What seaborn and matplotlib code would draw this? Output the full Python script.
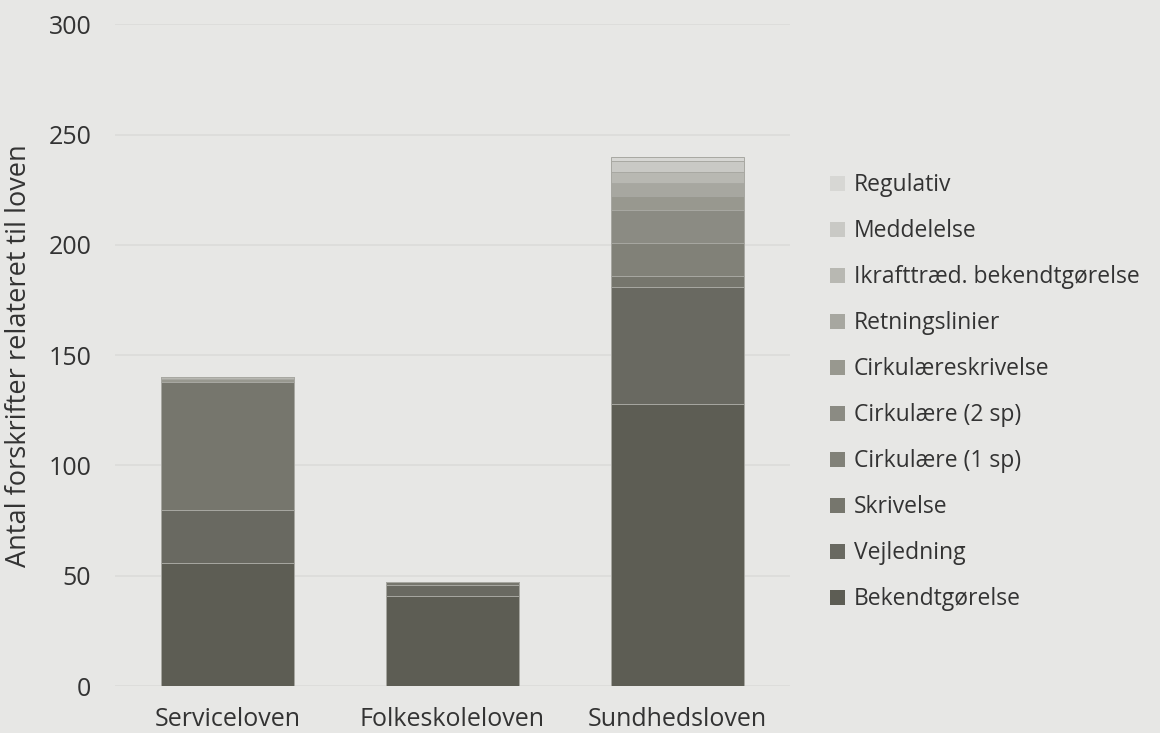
import numpy as np
import pandas as pd
import matplotlib
matplotlib.use("Agg")
import matplotlib.pyplot as plt
from matplotlib.patches import Patch
import seaborn as sns

# data
laws = ["Serviceloven", "Folkeskoleloven", "Sundhedsloven"]
types = ["Bekendtgørelse", "Vejledning", "Skrivelse", "Cirkulære (1 sp)",
         "Cirkulære (2 sp)", "Cirkulæreskrivelse", "Retningslinier",
         "Ikrafttræd. bekendtgørelse", "Meddelelse", "Regulativ"]
bekendtgorelse = [56, 41, 128]
vejledning = [24, 5, 53]
skrivelse = [58, 1, 5]
cirk_1sp = [0, 0, 15]
cirk_2sp = [0, 0, 15]
cirkskrivelse = [1, 0, 6]
retningslinier = [0, 0, 6]
ikraft = [1, 0, 5]
meddelelse = [0, 0, 5]
regulativ = [0, 0, 2]

colors = ["#5d5d54", "#696961", "#76766d", "#818178", "#8b8b83",
          "#98988f", "#a7a7a0", "#b8b8b2", "#c9c9c5", "#d7d7d4"]

df = pd.DataFrame([bekendtgorelse, vejledning, skrivelse, cirk_1sp, cirk_2sp,
                   cirkskrivelse, retningslinier, ikraft, meddelelse, regulativ],
                  index=types, columns=laws)
cum = df.cumsum()

bg = "#e7e7e5"
txtc = "#333333"
sns.set_theme(style="white", rc={"figure.facecolor": bg, "axes.facecolor": bg})
plt.rcParams["font.family"] = ["Open Sans", "DejaVu Sans"]

fig = plt.figure(figsize=(11.6, 7.33), dpi=100)
ax = fig.add_axes([0.099, 0.064, 0.582, 0.903])

# draw cumulative totals from the top level down so each layer shows its segment
for t, c in zip(types[::-1], colors[::-1]):
    sns.barplot(x=laws, y=cum.loc[t].values, color=c, saturation=1, width=0.59,
                edgecolor="#a8a8a2", linewidth=0.7, ax=ax, zorder=2)

ax.set_ylim(0, 300)
ax.set_xlim(-0.5, 2.5)
ax.set_yticks([0, 50, 100, 150, 200, 250, 300])
ax.yaxis.grid(True, color="#dcdcda", linewidth=1.2, zorder=0)
ax.set_axisbelow(True)
for s in ax.spines.values():
    s.set_visible(False)
ax.tick_params(axis="y", length=0, pad=17, labelsize=18, labelcolor=txtc)
ax.tick_params(axis="x", length=0, pad=15, labelsize=18, labelcolor=txtc)
ax.set_xlabel("")
ax.set_ylabel("Antal forskrifter relateret til loven", fontsize=19.5, color=txtc, labelpad=11)

handles = [Patch(facecolor=c, edgecolor="none", label=t) for t, c in zip(types, colors)]
leg = fig.legend(handles=handles[::-1], loc="center left", bbox_to_anchor=(0.708, 0.465),
                 frameon=False, fontsize=16.5, labelspacing=0.96, handlelength=0.62,
                 handleheight=0.62, handletextpad=0.4, borderaxespad=0)
for txt in leg.get_texts():
    txt.set_color(txtc)

fig.savefig("out.png", dpi=100, facecolor=bg)
